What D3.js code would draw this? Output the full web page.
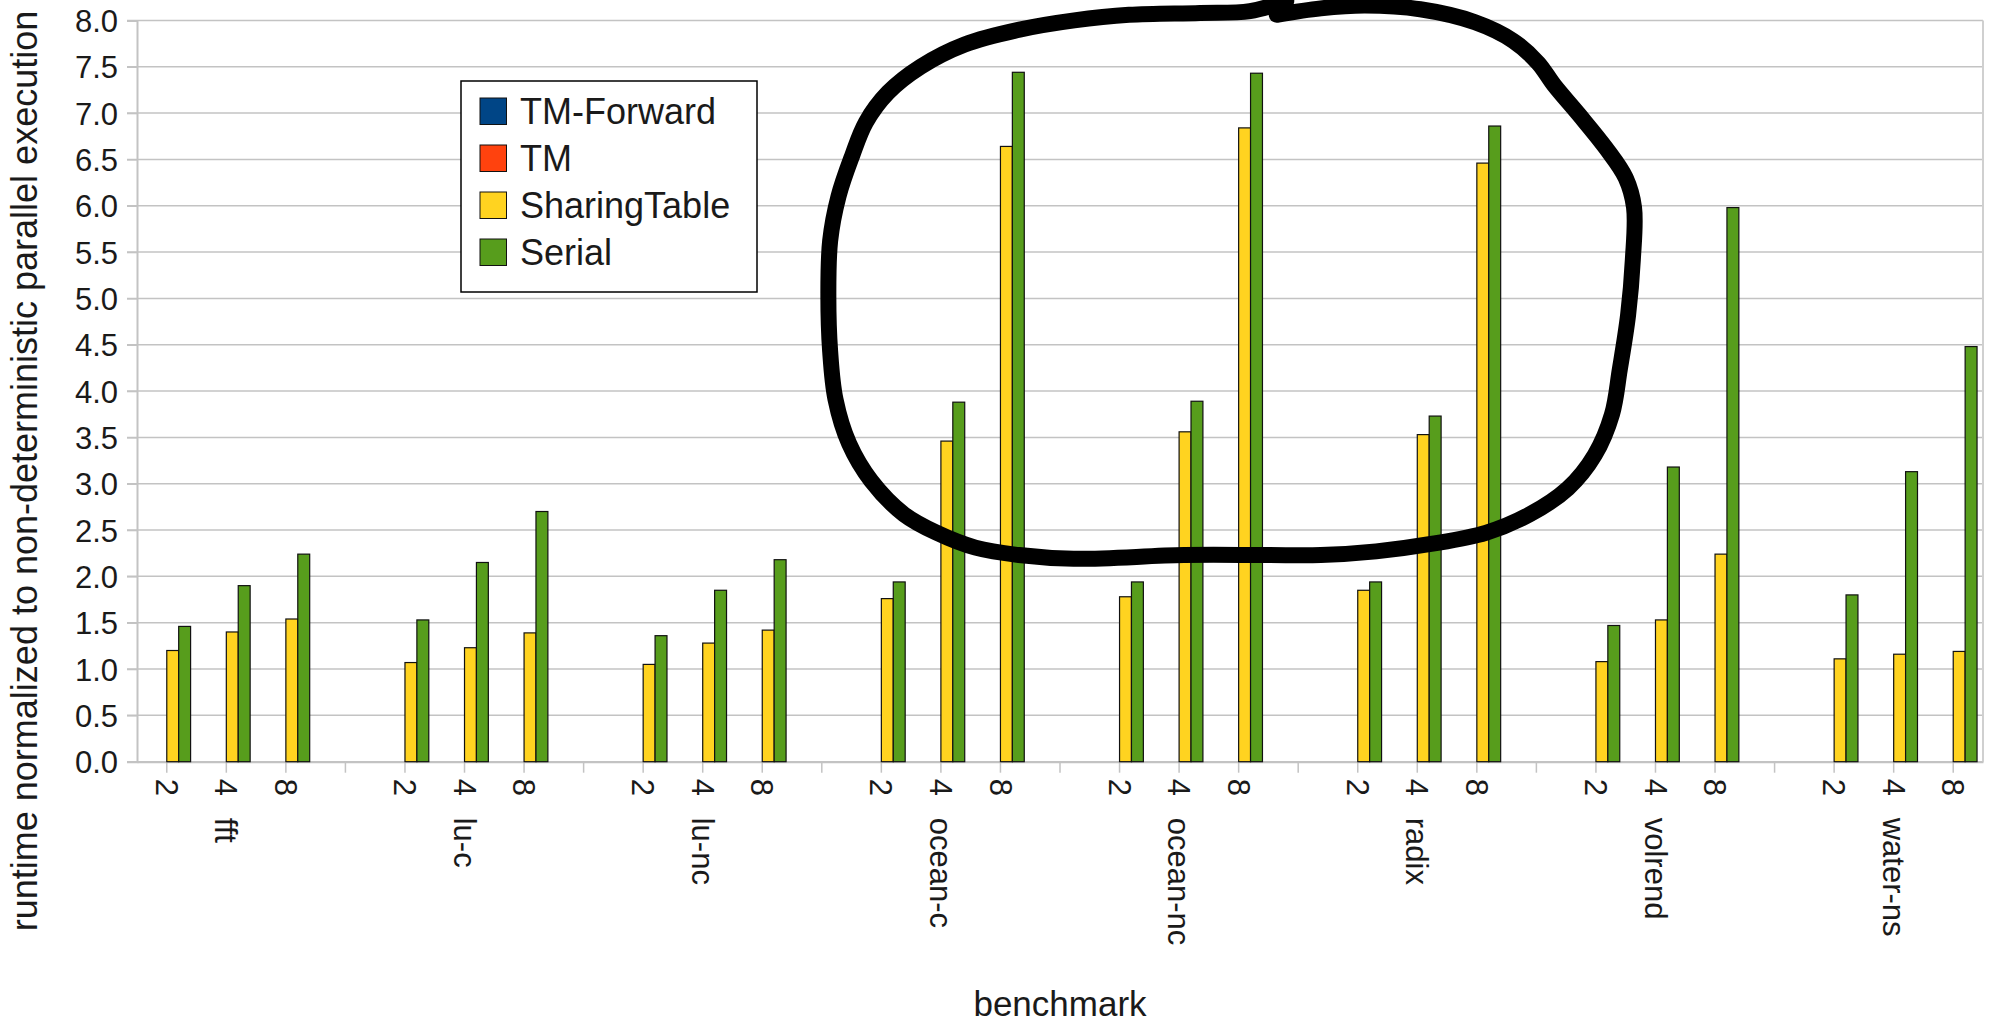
<!DOCTYPE html>
<html>
<head>
<meta charset="utf-8">
<script src="https://cdn.jsdelivr.net/npm/d3@7"></script>
<style>
  body { margin: 0; background: #fff; }
  text { font-family: "Liberation Sans", Arial, sans-serif; fill: #1a1a1a; }
</style>
</head>
<body>
<div id="chart"></div>
<script>
// benchmarks and thread counts on the x axis
const benchmarks = ["fft", "lu-c", "lu-nc", "ocean-c", "ocean-nc", "radix", "volrend", "water-ns"]
const threads = ["2", "4", "8"]

// series (legend order) and their colours
const seriesNames = ["TM-Forward", "TM", "SharingTable", "Serial"]
const seriesColors = ["#004586", "#ff420e", "#ffd320", "#579d1c"]

// values, 3 per benchmark (2, 4, 8 threads). TM-Forward and TM have no bars
const tmForward = []
const tm = []
const sharingTable = [1.20, 1.40, 1.54,  1.07, 1.23, 1.39,  1.05, 1.28, 1.42,  1.76, 3.46, 6.64,
                      1.78, 3.56, 6.84,  1.85, 3.53, 6.46,  1.08, 1.53, 2.24,  1.11, 1.16, 1.19]
const serial = [1.46, 1.90, 2.24,  1.53, 2.15, 2.70,  1.36, 1.85, 2.18,  1.94, 3.88, 7.44,
                1.94, 3.89, 7.43,  1.94, 3.73, 6.86,  1.47, 3.18, 5.98,  1.80, 3.13, 4.48]
const seriesValues = [tmForward, tm, sharingTable, serial]

// y ticks
const yTicks = [0, 0.5, 1, 1.5, 2, 2.5, 3, 3.5, 4, 4.5, 5, 5.5, 6, 6.5, 7, 7.5, 8]

// hand drawn loop around the ocean/radix groups, as [slot position, value]
const loopPoints = [
  [19.14, 8.06], [19.88, 8.13], [20.62, 8.16], [21.55, 8.12], [22.47, 7.98], [23.11, 7.78],
  [23.53, 7.54], [23.80, 7.30], [24.22, 6.98], [24.67, 6.62], [25.00, 6.30], [25.14, 5.98],
  [25.12, 5.42], [25.04, 4.82], [24.90, 4.23], [24.77, 3.75], [24.48, 3.31], [24.03, 2.95],
  [23.39, 2.67], [22.65, 2.47], [21.73, 2.35], [20.81, 2.27], [19.88, 2.23], [18.96, 2.23],
  [17.58, 2.23], [15.73, 2.19], [14.81, 2.23], [14.08, 2.31], [13.43, 2.47], [12.88, 2.67],
  [12.33, 3.03], [11.96, 3.43], [11.73, 3.91], [11.64, 4.43], [11.61, 5.02], [11.64, 5.62],
  [11.78, 6.10], [12.01, 6.54], [12.24, 6.90], [12.61, 7.22], [13.16, 7.50], [13.90, 7.74],
  [14.82, 7.90], [15.74, 8.00], [16.66, 8.06], [17.85, 8.08], [18.69, 8.10], [19.30, 8.21]
]

// chart dimensions
const margin = { top: 20.4, right: 13, bottom: 260.3, left: 137 }
const width = 1996 - margin.left - margin.right
const height = 1022 - margin.top - margin.bottom

const svg = d3.select("#chart")
  .append("svg")
    .attr("width", 1996)
    .attr("height", 1022)

const chart = svg.append("g")
    .attr("transform", "translate(" + margin.left + "," + margin.top + ")")

// slots: 3 thread counts per benchmark, blank slot between benchmarks
var slots = []
benchmarks.forEach(function(b, i) {
    threads.forEach(function(t) { slots.push(b + "|" + t) })
    if (i < benchmarks.length - 1) slots.push("gap" + i)
})

const x = d3.scaleBand().domain(slots).range([0, width]).padding(0)
const xLin = d3.scaleLinear().domain([0, slots.length]).range([0, width])
const y = d3.scaleLinear().domain([0, 8]).range([height, 0])

// 4 bars per slot, gap of one bar width
const barW = x.bandwidth() / 5
const xSeries = d3.scaleBand().domain(seriesNames).range([-2 * barW, 2 * barW])

const gridColor = "#c3c3c3"

// grid lines
chart.append("g")
  .selectAll("line")
  .data(yTicks)
  .join("line")
    .attr("x1", -10)
    .attr("x2", width)
    .attr("y1", d => y(d))
    .attr("y2", d => y(d))
    .attr("stroke", gridColor)
    .attr("stroke-width", 1.5)

// right wall border
chart.append("line")
    .attr("x1", width).attr("x2", width)
    .attr("y1", 0).attr("y2", height)
    .attr("stroke", "#d0d0d0")
    .attr("stroke-width", 2)

// y axis
const yAxis = chart.append("g")
    .call(d3.axisLeft(y).tickValues(yTicks).tickFormat(d3.format(".1f")).tickSize(10).tickPadding(9))
yAxis.select(".domain").attr("stroke", gridColor).attr("stroke-width", 2)
yAxis.selectAll(".tick line").attr("stroke", gridColor).attr("stroke-width", 1.5)
yAxis.selectAll("text").style("font-size", "31px").attr("dy", "0.36em")

// x axis with rotated thread labels
const xAxis = chart.append("g")
    .attr("transform", "translate(0," + height + ")")
    .call(d3.axisBottom(x).tickSize(11).tickSizeOuter(0)
        .tickFormat(d => d.startsWith("gap") ? "" : d.split("|")[1]))
xAxis.select(".domain").attr("stroke", gridColor).attr("stroke-width", 2)
xAxis.selectAll(".tick line").attr("stroke", gridColor).attr("stroke-width", 1.5)
xAxis.selectAll("text")
    .style("font-size", "31px")
    .style("text-anchor", "start")
    .attr("transform", "rotate(90)")
    .attr("x", 17)
    .attr("y", 0)
    .attr("dy", "0.35em")

// benchmark names under the middle slot of each group
chart.append("g")
  .selectAll("text")
  .data(benchmarks)
  .join("text")
    .attr("transform", d => "translate(" + (x(d + "|4") + x.bandwidth() / 2) + "," + (height + 56) + ") rotate(90)")
    .attr("dy", "0.35em")
    .style("font-size", "31px")
    .text(d => d)

// bars
seriesNames.forEach(function(name, si) {
    var rows = []
    benchmarks.forEach(function(b, bi) {
        threads.forEach(function(t, ti) {
            var v = seriesValues[si][bi * 3 + ti]
            if (v != undefined) rows.push({ slot: b + "|" + t, value: v })
        })
    })
    chart.append("g")
      .selectAll("rect")
      .data(rows)
      .join("rect")
        .attr("x", d => x(d.slot) + x.bandwidth() / 2 + xSeries(name))
        .attr("width", barW)
        .attr("y", d => y(d.value))
        .attr("height", d => height - y(d.value))
        .attr("fill", seriesColors[si])
        .attr("stroke", "#111")
        .attr("stroke-width", 1.2)
})

// hand drawn annotation loop
chart.append("path")
    .datum(loopPoints)
    .attr("fill", "none")
    .attr("stroke", "#000")
    .attr("stroke-width", 16)
    .attr("stroke-linecap", "round")
    .attr("stroke-linejoin", "round")
    .attr("d", d3.line()
        .curve(d3.curveCatmullRom)
        .x(d => xLin(d[0]))
        .y(d => y(d[1])))

// legend
const legend = svg.append("g").attr("transform", "translate(461,81)")
legend.append("rect")
    .attr("width", 296)
    .attr("height", 211)
    .attr("fill", "#fff")
    .attr("stroke", "#000")
    .attr("stroke-width", 1.5)
seriesNames.forEach(function(name, i) {
    const row = legend.append("g").attr("transform", "translate(19," + (30 + i * 47) + ")")
    row.append("rect")
        .attr("x", 0).attr("y", -13)
        .attr("width", 26.5).attr("height", 26.5)
        .attr("fill", seriesColors[i])
        .attr("stroke", "#111")
        .attr("stroke-width", 1)
    row.append("text")
        .attr("x", 40)
        .attr("dy", "0.36em")
        .style("font-size", "36px")
        .text(name)
})

// axis titles
svg.append("text")
    .attr("transform", "translate(37,471) rotate(-90)")
    .style("text-anchor", "middle")
    .style("font-size", "36px")
    .text("runtime normalized to non-deterministic parallel execution")

svg.append("text")
    .attr("x", margin.left + width / 2)
    .attr("y", 1016)
    .style("text-anchor", "middle")
    .style("font-size", "35px")
    .text("benchmark")
</script>
</body>
</html>
